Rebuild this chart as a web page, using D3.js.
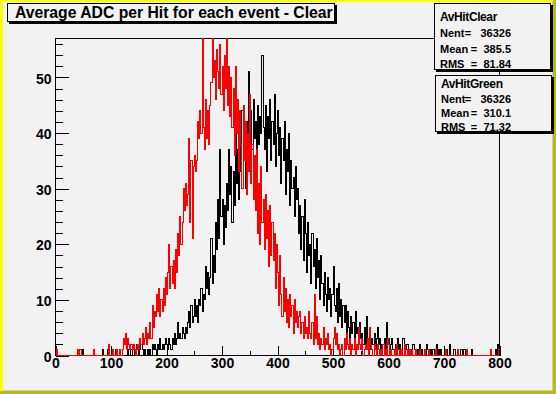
<!DOCTYPE html>
<html>
<head>
<meta charset="utf-8">
<script src="https://cdn.jsdelivr.net/npm/d3@7"></script>
<style>
  body { margin: 0; background: #f2f2f2; }
  svg { display: block; }
</style>
</head>
<body>
<div id="chart"></div>
<script>
  // histogram range, 400 bins of width 2
  var xMin = 0;
  var xMax = 800;

  // AvHitClear (black), counts per bin, 20 bins per row
  var clearCounts = [
    0,0,0,0,0,0,0,0,0,0,0,0,0,0,0,0,0,0,0,0,
    1,1,0,0,1,0,0,0,0,0,0,0,0,0,0,0,0,0,0,0,
    0,0,1,0,0,0,0,1,1,0,1,0,0,0,1,1,0,0,0,0,
    0,0,0,0,0,1,0,0,1,0,0,1,1,2,1,0,1,2,1,0,
    1,0,0,1,0,1,0,2,1,2,1,0,2,1,3,1,2,1,2,3,
    2,1,3,2,1,3,2,4,2,3,6,3,4,3,5,4,3,5,4,6,
    8,5,9,6,7,10,7,9,6,10,9,12,8,11,10,16,12,15,11,14,
    21,13,18,15,24,19,28,21,37,25,28,20,27,23,31,26,37,29,34,24,
    33,27,51,31,37,28,40,33,44,35,38,30,42,36,51,40,44,37,46,39,
    42,36,45,38,43,40,54,41,37,45,33,43,39,46,35,42,38,47,34,40,
    44,36,41,31,39,35,42,29,37,33,40,27,35,30,32,25,34,28,30,22,
    27,19,25,17,28,22,15,24,18,20,13,22,16,19,12,21,14,17,10,18,
    13,9,15,11,8,14,10,12,7,11,16,9,8,12,6,13,7,10,5,9,
    6,9,4,8,5,3,7,4,6,3,8,4,5,2,6,3,4,2,5,2,
    7,3,2,4,1,3,2,4,1,3,5,2,3,1,2,0,3,1,6,2,
    3,1,2,3,1,0,2,1,3,1,2,0,1,3,0,1,2,2,1,0,
    1,0,2,1,0,0,1,0,2,0,1,0,1,0,2,1,0,0,1,0,
    1,0,0,2,0,1,0,1,0,0,1,0,1,0,0,2,0,0,0,1,
    0,0,1,0,0,1,1,0,1,0,1,0,0,0,0,1,0,0,0,0,
    0,0,0,0,0,0,0,0,0,0,0,0,0,0,0,0,1,0,2,0
  ];

  // AvHitGreen (red), counts per bin
  var greenCounts = [
    0,1,0,0,0,0,0,0,0,0,0,0,0,0,0,0,0,0,0,0,
    1,0,1,0,0,0,0,0,0,0,0,0,0,0,1,0,0,0,0,0,
    0,0,0,0,0,0,0,0,2,0,0,1,0,0,0,1,0,0,1,0,
    1,3,2,4,1,3,2,1,2,1,2,1,0,1,2,1,3,2,4,2,
    3,5,2,4,3,6,3,9,5,8,7,11,8,12,7,10,8,12,9,14,
    11,15,20,12,16,13,17,12,19,15,22,18,25,20,24,30,26,31,27,29,
    39,24,35,21,34,36,33,35,42,39,44,40,57,41,37,46,39,44,38,45,
    49,57,50,53,46,55,51,48,56,47,52,44,54,48,57,45,52,43,50,41,
    48,36,52,40,46,33,44,38,30,45,35,42,29,40,33,47,31,38,28,36,
    26,37,22,31,20,34,24,28,19,29,21,26,16,27,18,24,17,22,12,20,
    15,9,18,11,7,14,8,12,6,10,5,11,7,9,4,10,6,8,5,7,
    8,4,6,3,7,4,5,3,8,4,3,6,2,11,3,7,2,4,1,3,
    2,5,1,3,2,4,1,2,0,1,3,5,2,4,1,2,0,1,2,0,
    3,1,4,2,1,3,0,2,1,3,0,2,1,5,2,1,3,0,1,2,
    1,3,0,5,2,1,0,2,1,0,2,1,0,1,0,2,0,1,0,3,
    2,0,1,0,0,1,0,2,0,0,1,0,1,0,2,0,0,1,0,1,
    0,1,0,0,1,0,0,0,1,0,0,0,1,0,0,0,1,0,0,0,
    0,0,1,0,0,0,0,0,0,0,0,1,0,0,0,0,0,0,0,0,
    0,0,1,0,0,0,0,0,0,0,1,0,0,0,0,0,0,0,0,0,
    0,0,0,0,0,0,0,0,0,0,0,0,1,0,0,0,0,0,0,1
  ];

  // tick labels
  var xMajorTicks = [0, 100, 200, 300, 400, 500, 600, 700, 800];
  var xMinorTicks = [50, 150, 250, 350, 450, 550, 650, 750];
  var yMajorTicks = [0, 10, 20, 30, 40, 50];
  var yMinorTicks = [2, 4, 6, 8, 12, 14, 16, 18, 22, 24, 26, 28, 32, 34, 36, 38, 42, 44, 46, 48, 52, 54, 56];

  var titleText = "Average ADC per Hit for each event - Clear";
  var clearStats = ["AvHitClear", "36326", "385.5", "81.84"];
  var greenStats = ["AvHitGreen", "36326", "310.1", "71.32"];

  var svgWidth = 556;
  var svgHeight = 394;
  var bg = "#f2f2f2";
  var font = "'Liberation Sans', Arial, sans-serif";

  var svg = d3.select("#chart")
    .append("svg")
    .attr("width", svgWidth)
    .attr("height", svgHeight);

  // canvas background + border (light top/left, dark bottom/right)
  svg.append("rect").attr("width", svgWidth).attr("height", svgHeight).attr("fill", bg);
  svg.append("rect").attr("x", 0).attr("y", 0).attr("width", svgWidth).attr("height", 2).attr("fill", "#ffff00");
  svg.append("rect").attr("x", 0).attr("y", 0).attr("width", 3).attr("height", svgHeight).attr("fill", "#ffff00");
  svg.append("rect").attr("x", 553).attr("y", 0).attr("width", 3).attr("height", svgHeight).attr("fill", "#bcbc00");
  svg.append("rect").attr("x", 0).attr("y", 391).attr("width", svgWidth).attr("height", 3).attr("fill", "#bcbc00");
  svg.append("rect").attr("x", 3).attr("y", 390).attr("width", 550).attr("height", 1).attr("fill", "#c8c8c8");
  svg.append("rect").attr("x", 552).attr("y", 2).attr("width", 1).attr("height", 389).attr("fill", "#c8c8c8");

  // scales
  var x = d3.scaleLinear().domain([xMin, xMax]).range([55.5, 499.5]);
  var y = d3.scaleLinear().domain([0, 57]).range([355.5, 38.5]);

  // frame
  svg.append("rect")
    .attr("x", 55.5).attr("y", 38.5)
    .attr("width", 444).attr("height", 317)
    .attr("fill", "none")
    .attr("stroke", "black");

  // axes, ticks drawn inside the frame
  var yAxisMajor = svg.append("g")
    .attr("transform", "translate(55.5,0)")
    .call(d3.axisLeft(y).tickValues(yMajorTicks).tickSize(-13).tickPadding(4).tickFormat(d3.format("d")));
  svg.append("g")
    .attr("transform", "translate(55.5,0)")
    .call(d3.axisLeft(y).tickValues(yMinorTicks).tickSize(-7).tickFormat(""));

  var xAxisMajor = svg.append("g")
    .attr("transform", "translate(0,355.5)")
    .call(d3.axisBottom(x).tickValues(xMajorTicks).tickSize(-10).tickPadding(3).tickFormat(d3.format("d")));
  svg.append("g")
    .attr("transform", "translate(0,355.5)")
    .call(d3.axisBottom(x).tickValues(xMinorTicks).tickSize(-5).tickFormat(""));

  svg.selectAll(".domain").remove();
  svg.selectAll(".tick line").attr("stroke", "black").attr("shape-rendering", "crispEdges");
  svg.selectAll(".tick text")
    .attr("font-family", font)
    .attr("font-weight", "bold")
    .attr("font-size", 14)
    .attr("fill", "black");
  yAxisMajor.selectAll(".tick text").attr("dy", "0.4em");

  // step outline for a histogram
  function histPath(counts) {
    var w = (xMax - xMin) / counts.length;
    var pts = counts.map(function(c, i) { return [xMin + i * w, c]; });
    pts.push([xMax, counts[counts.length - 1]]);
    var line = d3.line()
      .x(function(d) { return x(d[0]); })
      .y(function(d) { return y(d[1]); })
      .curve(d3.curveStepAfter);
    return line(pts);
  }

  svg.append("path")
    .attr("d", histPath(clearCounts))
    .attr("fill", "none")
    .attr("stroke", "black")
    .attr("stroke-width", 1)
    .attr("shape-rendering", "crispEdges");

  svg.append("path")
    .attr("d", histPath(greenCounts))
    .attr("fill", "none")
    .attr("stroke", "#ff0000")
    .attr("stroke-width", 1)
    .attr("shape-rendering", "crispEdges");

  // box with drop shadow
  function shadowBox(x0, y0, w, h) {
    svg.append("rect").attr("x", x0 + 2).attr("y", y0 + 2).attr("width", w).attr("height", h).attr("fill", "black");
    svg.append("rect").attr("x", x0 + 0.5).attr("y", y0 + 0.5).attr("width", w - 1).attr("height", h - 1)
      .attr("fill", bg).attr("stroke", "black").attr("shape-rendering", "crispEdges");
  }

  // title
  shadowBox(7, 3, 328, 19);
  var title = svg.append("text")
    .attr("x", 15).attr("y", 17.5)
    .attr("font-family", font)
    .attr("font-weight", "bold")
    .attr("font-size", 15)
    .text(titleText);
  var tw = title.node().getComputedTextLength();
  title.attr("font-size", 15 * 318 / tw);

  // stats boxes
  function statsBox(x0, y0, w, h, stats, baselines) {
    shadowBox(x0, y0, w, h);
    var g = svg.append("g")
      .attr("font-family", font)
      .attr("font-weight", "bold")
      .attr("font-size", 11)
      .attr("fill", "black");
    var labels = ["Nent", "Mean", "RMS"];
    var eqX = [468, 474, 474];
    g.append("text").attr("x", x0 + 6).attr("y", baselines[0]).attr("font-size", 12).attr("letter-spacing", -0.4).text(stats[0]);
    for (var i = 0; i < 3; i++) {
      g.append("text").attr("x", x0 + 6).attr("y", baselines[i + 1]).text(labels[i]);
      g.append("text").attr("x", eqX[i]).attr("y", baselines[i + 1]).attr("text-anchor", "middle").text("=");
      g.append("text").attr("x", 511).attr("y", baselines[i + 1]).attr("text-anchor", "end").text(stats[i + 1]);
    }
  }

  statsBox(434, 3, 117, 67, clearStats, [21, 37, 53, 68]);
  statsBox(435, 75, 117, 57, greenStats, [88, 103, 117, 131]);
</script>
</body>
</html>
